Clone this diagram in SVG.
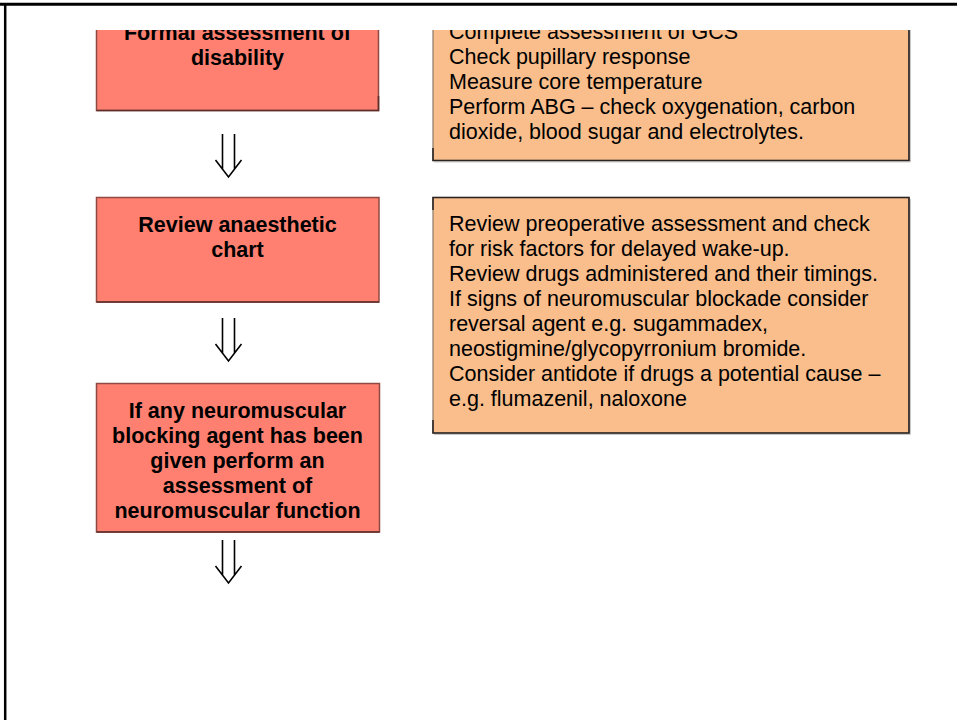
<svg xmlns="http://www.w3.org/2000/svg" width="957" height="720" viewBox="0 0 957 720">
  <defs>
    <style>
      .step { fill: #ff8070; stroke: #8e4a42; stroke-width: 1.5; }
      .note { fill: #f9be8c; stroke: #8a7a6a; stroke-width: 1.2; }
      .edge-dark { fill: none; stroke: #2b2522; stroke-width: 1.6; }
      .step-edge { fill: none; stroke: #5e2e2a; stroke-width: 1.6; }
      .shadow { fill: none; stroke: #c9c9c9; stroke-width: 1; }
      .bold { font-family: "Liberation Sans", Arial, sans-serif; font-size: 21.5px; font-weight: bold; fill: #000; text-anchor: middle; }
      .body { font-family: "Liberation Sans", Arial, sans-serif; font-size: 21.5px; fill: #000; }
      .arrow { fill: none; stroke: #000; stroke-width: 1.6; stroke-linejoin: miter; }
      .frame { stroke: #000; }
    </style>
    <clipPath id="page">
      <rect x="0" y="30" width="957" height="690"/>
    </clipPath>
    <g id="dbl-arrow">
      <path class="arrow" d="M-6,0 V35.2 M6,0 V35.2 M-13,26 L0,43 L13,26"/>
    </g>
  </defs>

  <rect x="0" y="0" width="957" height="720" fill="#fff"/>

  <!-- page frame -->
  <line class="frame" x1="0" y1="4.2" x2="957" y2="4.2" stroke-width="3"/>
  <line class="frame" x1="5.2" y1="3" x2="5.2" y2="720" stroke-width="2.5"/>

  <g clip-path="url(#page)">
    <!-- left column: steps -->
    <g id="step-disability">
      <rect class="step" x="96.5" y="10" width="282" height="100.5"/>
      <path class="step-edge" d="M96.5,110.5 H378.5 V96"/>
      <text class="bold" x="237.5" y="40">Formal assessment of</text>
      <text class="bold" x="237.5" y="65">disability</text>
    </g>

    <g id="step-chart">
      <rect class="step" x="96.5" y="197.5" width="282.5" height="104.5"/>
      <path class="step-edge" d="M96.5,302 H379"/>
      <text class="bold" x="237.5" y="232">Review anaesthetic</text>
      <text class="bold" x="237.5" y="257">chart</text>
    </g>

    <g id="step-nmb">
      <rect class="step" x="96.5" y="383.5" width="283" height="148.5"/>
      <path class="step-edge" d="M96.5,532 H379.5"/>
      <text class="bold" x="237.5" y="418">If any neuromuscular</text>
      <text class="bold" x="237.5" y="443">blocking agent has been</text>
      <text class="bold" x="237.5" y="468">given perform an</text>
      <text class="bold" x="237.5" y="493">assessment of</text>
      <text class="bold" x="237.5" y="518">neuromuscular function</text>
    </g>

    <!-- right column: notes -->
    <g id="note-disability">
      <rect class="note" x="433" y="10" width="476" height="150.5"/>
      <path class="shadow" d="M434,162 H910.5 V12"/>
      <path class="edge-dark" d="M433,148 V160.5 H909 V10"/>
      <text class="body" x="449" y="39">Complete assessment of GCS</text>
      <text class="body" x="449" y="64">Check pupillary response</text>
      <text class="body" x="449" y="89">Measure core temperature</text>
      <text class="body" x="449" y="114">Perform ABG – check oxygenation, carbon</text>
      <text class="body" x="449" y="139">dioxide, blood sugar and electrolytes.</text>
    </g>

    <g id="note-chart">
      <rect class="note" x="433" y="197.5" width="476" height="235.5"/>
      <path class="shadow" d="M434,434.5 H910.5 V199"/>
      <path class="edge-dark" d="M433,210 V197.5 H909 V433 H433 V420"/>
      <text class="body" x="449" y="231">Review preoperative assessment and check</text>
      <text class="body" x="449" y="256">for risk factors for delayed wake-up.</text>
      <text class="body" x="449" y="281">Review drugs administered and their timings.</text>
      <text class="body" x="449" y="306">If signs of neuromuscular blockade consider</text>
      <text class="body" x="449" y="331">reversal agent e.g. sugammadex,</text>
      <text class="body" x="449" y="356">neostigmine/glycopyrronium bromide.</text>
      <text class="body" x="449" y="381">Consider antidote if drugs a potential cause –</text>
      <text class="body" x="449" y="406">e.g. flumazenil, naloxone</text>
    </g>

    <!-- connectors -->
    <g id="connectors">
      <use href="#dbl-arrow" x="228.5" y="134"/>
      <use href="#dbl-arrow" x="228.5" y="318"/>
      <use href="#dbl-arrow" x="228.5" y="540"/>
    </g>
  </g>
</svg>
